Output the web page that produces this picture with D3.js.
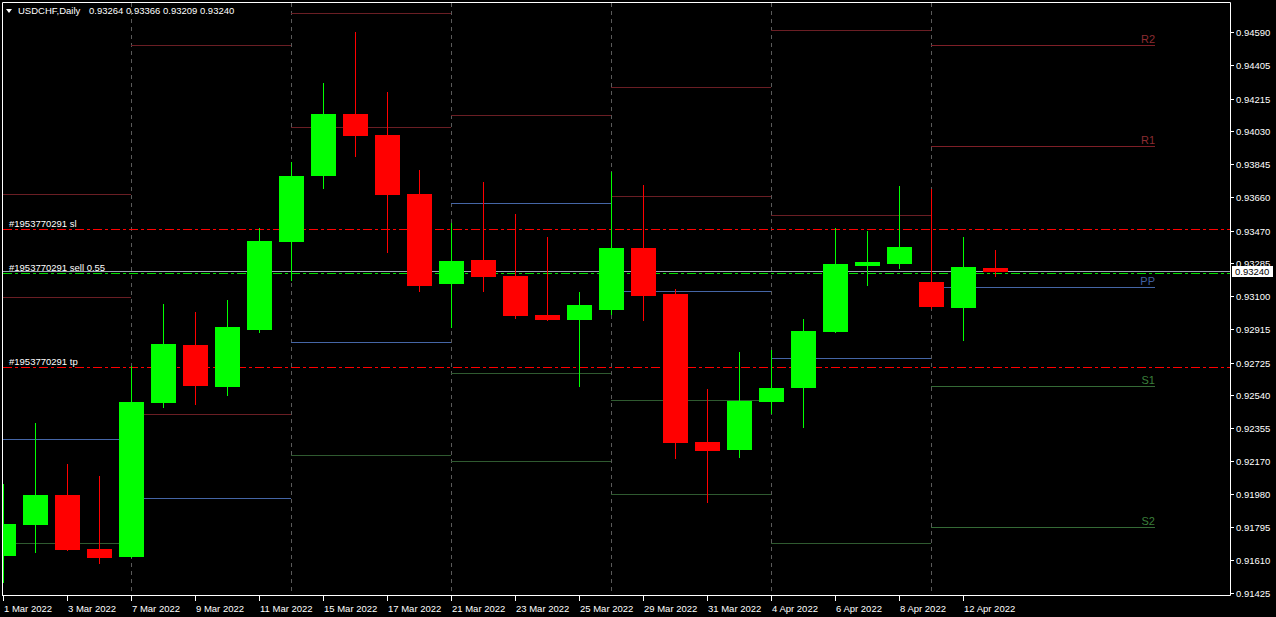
<!DOCTYPE html>
<html>
<head>
<meta charset="utf-8">
<script src="https://cdn.jsdelivr.net/npm/d3@7"></script>
<style>
html,body{margin:0;padding:0;background:#000;overflow:hidden;}
svg{display:block;}
text{font-family:"Liberation Sans",Arial,sans-serif;}
</style>
</head>
<body>
<script>
// ---------- DATA ----------
const symbol = "USDCHF,Daily";
const dates = ["1 Mar 2022","2 Mar 2022","3 Mar 2022","4 Mar 2022","7 Mar 2022","8 Mar 2022","9 Mar 2022","10 Mar 2022","11 Mar 2022",
  "14 Mar 2022","15 Mar 2022","16 Mar 2022","17 Mar 2022","18 Mar 2022","21 Mar 2022","22 Mar 2022","23 Mar 2022","24 Mar 2022","25 Mar 2022",
  "28 Mar 2022","29 Mar 2022","30 Mar 2022","31 Mar 2022","1 Apr 2022","4 Apr 2022","5 Apr 2022","6 Apr 2022","7 Apr 2022","8 Apr 2022",
  "11 Apr 2022","12 Apr 2022","13 Apr 2022"];
const open  = [0.91637,0.91811,0.91980,0.91675,0.91632,0.92501,0.92827,0.92592,0.92913,0.93410,0.93783,0.94131,0.94013,0.93679,0.93173,0.93307,
  0.93216,0.92996,0.92970,0.93026,0.93375,0.93115,0.92279,0.92236,0.92507,0.92586,0.92902,0.93275,0.93286,0.93183,0.93038,0.93264];
const high  = [0.92042,0.92387,0.92155,0.92087,0.92708,0.93058,0.93013,0.93081,0.93486,0.93860,0.94306,0.94594,0.94255,0.93815,0.93517,0.93747,
  0.93566,0.93437,0.93126,0.93805,0.93730,0.93143,0.92579,0.92787,0.92799,0.92974,0.93488,0.93471,0.93725,0.93708,0.93437,0.93366];
const low   = [0.91485,0.91654,0.91664,0.91592,0.91624,0.92473,0.92490,0.92541,0.92896,0.93190,0.93709,0.93890,0.93348,0.93128,0.92923,0.93128,
  0.92975,0.92964,0.92592,0.92998,0.92964,0.92185,0.91937,0.92191,0.92439,0.92360,0.92896,0.93162,0.93258,0.93030,0.92850,0.93209];
const close = [0.91816,0.91980,0.91671,0.91626,0.92505,0.92833,0.92597,0.92929,0.93414,0.93781,0.94131,0.94009,0.93676,0.93162,0.93301,0.93213,
  0.92992,0.92970,0.93053,0.93375,0.93105,0.92275,0.92230,0.92511,0.92584,0.92906,0.93284,0.93296,0.93380,0.93043,0.93267,0.93240];

const dateTickIdx = [0,2,4,6,8,10,12,14,16,18,20,22,24,26,28,30];
const priceTicks = ["0.94590","0.94405","0.94215","0.94030","0.93845","0.93660","0.93470","0.93285","0.93100",
  "0.92915","0.92725","0.92540","0.92355","0.92170","0.91980","0.91795","0.91610","0.91425"];

// weekly pivot levels (week start / end bar index)
const weekStart = [-1, 4, 9, 14, 19, 24, 29];
const weekEnd   = [ 4, 9,14, 19, 24, 29, 36];
const pivR2 = [0.93678, 0.94519, 0.94700, null,    0.94280, 0.94605, 0.94515];
const pivR1 = [0.93096, 0.92436, 0.94056, 0.94124, 0.93667, 0.93559, 0.93950];
const pivPP = [0.92295, 0.91961, 0.92842, 0.93627, 0.93130, 0.92752, 0.93153];
const pivS1 = [0.91707, null,    0.92204, 0.92667, 0.92516, 0.91707, 0.92590];
const pivS2 = [null,    null,    null,    0.92170, 0.91980, null,    0.91799];
const separatorIdx = [4, 9, 14, 19, 24, 29];

const orderId = "#1953770291";
const orderLots = "0.55";
const orderOpen = 0.93228, orderSL = 0.93480, orderTP = 0.92701;
const bid = 0.93240;

// ---------- LAYOUT ----------
const W = 1276, H = 617;
const pL = 3, pR = 1230, pT = 3, pB = 595;
const x = d3.scaleLinear().domain([0, 31]).range([3, 995]);
const y = d3.scaleLinear().domain([0.91425, 0.94590]).range([593.3, 32.7]);
const yl = v => Math.floor(y(v)) + 0.5;
const fg = "#ffffff";

const svg = d3.select("body").append("svg").attr("width", W).attr("height", H);
svg.append("rect").attr("width", W).attr("height", H).attr("fill", "#000");
svg.append("defs").append("clipPath").attr("id", "plot")
  .append("rect").attr("x", pL).attr("y", pT).attr("width", pR - pL).attr("height", pB - pT);
const plot = svg.append("g").attr("clip-path", "url(#plot)");

// period separators
plot.selectAll("line.sep").data(separatorIdx).join("line")
  .attr("x1", d => x(d) + 0.5).attr("x2", d => x(d) + 0.5)
  .attr("y1", pT).attr("y2", pB)
  .attr("stroke", "#5a5a5a").attr("stroke-width", 1).attr("stroke-dasharray", "4,4");

// pivot lines
const pivotSets = [
  {name: "R2", vals: pivR2, color: "#6a1e24", cur: "#7e1f27", lab: "#8c2c32"},
  {name: "R1", vals: pivR1, color: "#6a1e24", cur: "#7e1f27", lab: "#8c2c32"},
  {name: "PP", vals: pivPP, color: "#4566a6", cur: "#4566a6", lab: "#3f5f9f"},
  {name: "S1", vals: pivS1, color: "#2f5a30", cur: "#356a36", lab: "#3b7f3b"},
  {name: "S2", vals: pivS2, color: "#2f5a30", cur: "#356a36", lab: "#3b7f3b"}
];
const pivSegs = [];
pivotSets.forEach(s => s.vals.forEach((v, w) => {
  if (v == null) return;
  pivSegs.push({name: s.name, v, w, color: w === weekStart.length - 1 ? s.cur : s.color, lab: s.lab});
}));
plot.selectAll("line.piv").data(pivSegs).join("line")
  .attr("x1", d => Math.max(pL, x(weekStart[d.w]))).attr("x2", d => x(weekEnd[d.w]))
  .attr("y1", d => yl(d.v)).attr("y2", d => yl(d.v))
  .attr("stroke", d => d.color).attr("stroke-width", 1);
plot.selectAll("text.pivlab").data(pivSegs.filter(d => d.w === weekStart.length - 1)).join("text")
  .attr("x", d => x(weekEnd[d.w])).attr("y", d => yl(d.v) - 3)
  .attr("text-anchor", "end").attr("font-size", "11px").attr("fill", d => d.lab)
  .text(d => d.name);

// order lines
const dashdot = "9,3,3,3";
[{v: orderSL, c: "#ff0000"}, {v: orderTP, c: "#ff0000"}, {v: orderOpen, c: "#00e000"}].forEach(o => {
  plot.append("line").attr("x1", pL).attr("x2", pR).attr("y1", yl(o.v)).attr("y2", yl(o.v))
    .attr("stroke", o.c).attr("stroke-width", 1).attr("stroke-dasharray", dashdot);
});
// bid line
plot.append("line").attr("x1", pL).attr("x2", pR).attr("y1", yl(bid)).attr("y2", yl(bid))
  .attr("stroke", "#a0a8b8").attr("stroke-width", 1);

// order labels
const labs = [
  {t: orderId + " sl", v: orderSL},
  {t: orderId + " sell " + orderLots, v: orderOpen},
  {t: orderId + " tp", v: orderTP}
];
plot.selectAll("text.olab").data(labs).join("text")
  .attr("x", 9).attr("y", d => yl(d.v) - 3)
  .attr("font-size", "9.5px").attr("fill", fg).text(d => d.t);

// candles
const bars = dates.map((d, i) => ({i, o: open[i], h: high[i], l: low[i], c: close[i]}));
const cg = plot.append("g");
cg.selectAll("rect.wick").data(bars).join("rect")
  .attr("x", d => x(d.i)).attr("width", 1)
  .attr("y", d => Math.round(y(d.h))).attr("height", d => Math.max(1, Math.round(y(d.l)) - Math.round(y(d.h))))
  .attr("fill", d => d.c >= d.o ? "#00ff00" : "#ff0000");
cg.selectAll("rect.body").data(bars).join("rect")
  .attr("x", d => x(d.i) - 12).attr("width", 25)
  .attr("y", d => Math.round(y(Math.max(d.o, d.c))))
  .attr("height", d => Math.max(1, Math.round(y(Math.min(d.o, d.c))) - Math.round(y(Math.max(d.o, d.c)))))
  .attr("fill", d => d.c >= d.o ? "#00ff00" : "#ff0000");

// frame
svg.append("path").attr("d", `M2.5,596 V2.5 H1230.5 V595.5 H2`).attr("fill", "none").attr("stroke", fg).attr("stroke-width", 1);

// bottom axis
const bx = svg.append("g");
bx.selectAll("line").data(dateTickIdx).join("line")
  .attr("x1", d => x(d) + 0.5).attr("x2", d => x(d) + 0.5).attr("y1", 596).attr("y2", 601)
  .attr("stroke", fg);
bx.selectAll("text").data(dateTickIdx).join("text")
  .attr("x", d => x(d) + 1).attr("y", 612)
  .attr("font-size", "9.5px").attr("fill", fg).text(d => dates[d]);

// right axis
const ry = svg.append("g");
ry.selectAll("line").data(priceTicks).join("line")
  .attr("x1", 1231).attr("x2", 1234).attr("y1", d => yl(+d)).attr("y2", d => yl(+d)).attr("stroke", fg);
ry.selectAll("text").data(priceTicks).join("text")
  .attr("x", 1236).attr("y", d => yl(+d) + 3.5)
  .attr("font-size", "9.5px").attr("fill", fg).text(d => d);

// current price box
const by = yl(bid);
svg.append("rect").attr("x", 1232).attr("y", by - 5.5).attr("width", 41).attr("height", 11).attr("fill", "#fff");
svg.append("text").attr("x", 1235).attr("y", by + 3.5).attr("font-size", "9.5px").attr("fill", "#000").text(bid.toFixed(5));

// title
svg.append("path").attr("d", "M6,9 L12,9 L9,13 Z").attr("fill", fg);
svg.append("text").attr("x", 18).attr("y", 14).attr("font-size", "9.5px").attr("fill", fg).text(symbol);
const li = close.length - 1;
svg.append("text").attr("x", 89).attr("y", 14).attr("font-size", "9.5px").attr("fill", fg)
  .text([open[li], high[li], low[li], close[li]].map(v => v.toFixed(5)).join(" "));
</script>
</body>
</html>
